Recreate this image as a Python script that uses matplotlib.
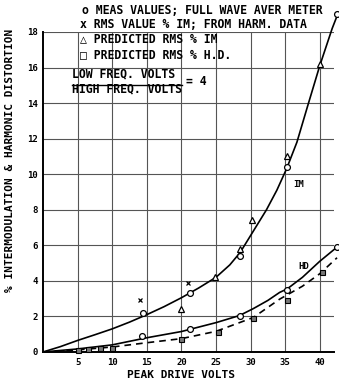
import matplotlib
matplotlib.use("Agg")
import matplotlib.pyplot as plt
from matplotlib.lines import Line2D

# IM curve (solid) and points
im_curve_x = [0, 2.5, 5, 7.5, 10, 12.5, 15, 17.5, 20, 22.5, 25, 27, 28.5,
              30.4, 32.3, 33.8, 35.2, 36.7, 38.3, 40, 41.8, 42.5]
im_curve_y = [0, 0.3, 0.65, 0.97, 1.3, 1.68, 2.1, 2.55, 3.05, 3.6, 4.2, 4.9,
              5.6, 6.8, 8.0, 9.1, 10.3, 11.8, 13.9, 16.1, 18.2, 18.9]
im_meas_x = [14.5, 21.2, 28.5, 35.2, 42.5]
im_meas_y = [2.2, 3.3, 5.4, 10.4, 19.0]
im_pred_x = [20, 24.9, 28.4, 30.2, 35.2, 40]
im_pred_y = [2.4, 4.2, 5.8, 7.4, 11.0, 16.2]
im_harm_x = [14, 21]
im_harm_y = [2.9, 3.9]

# HD curves and points
hd_curve_x = [0, 5, 10, 15, 20, 25, 28.4, 30.4, 32.5, 34.2, 35.3, 37.5, 40, 42.5]
hd_curve_y = [0, 0.17, 0.4, 0.8, 1.15, 1.65, 2.05, 2.44, 2.9, 3.35, 3.55, 4.2,
              5.1, 5.9]
hd_meas_x = [14.3, 21.2, 28.4, 35.3, 42.5]
hd_meas_y = [0.9, 1.3, 2.0, 3.5, 5.9]
hd_pred_curve_x = [0, 5, 10, 15, 20, 25, 30.4, 34.2, 37.5, 40, 42.5]
hd_pred_curve_y = [0, 0.12, 0.28, 0.52, 0.75, 1.16, 1.94, 2.97, 3.7, 4.4, 5.3]
hd_pred_x = [5, 6.5, 8.2, 10, 20, 25.3, 30.4, 35.2, 40.3]
hd_pred_y = [0.1, 0.15, 0.2, 0.25, 0.75, 1.15, 1.9, 2.9, 4.5]

xticks = [5, 10, 15, 20, 25, 30, 35, 40]
yticks = [0, 2, 4, 6, 8, 10, 12, 14, 16, 18]

font = dict(family="DejaVu Sans Mono", weight="bold")

fig = plt.figure(figsize=(3.39, 3.83), dpi=100)
ax = fig.add_axes([0.127, 0.081, 0.857, 0.8355])
ax.set_xlim(0, 42)
ax.set_ylim(0, 18)

gc = "#555555"
for x in xticks:
    ax.axvline(x, color=gc, lw=0.8, zorder=1)
for y in yticks[1:]:
    ax.axhline(y, color=gc, lw=0.8, zorder=1)

for s in ["top", "right"]:
    ax.spines[s].set_visible(False)
ax.spines["left"].set_linewidth(1.4)
ax.spines["bottom"].set_linewidth(1.4)

ax.plot(im_curve_x, im_curve_y, color="k", lw=1.2, clip_on=False, zorder=3)
ax.plot(hd_curve_x, hd_curve_y, color="k", lw=1.2, clip_on=False, zorder=3)
ax.plot(hd_pred_curve_x, hd_pred_curve_y, color="k", lw=1.2, ls=(0, (4, 3)),
        clip_on=False, zorder=3)

ax.plot(im_meas_x, im_meas_y, "o", mfc="white", mec="k", ms=4.2, mew=0.9,
        clip_on=False, zorder=4)
ax.plot(hd_meas_x, hd_meas_y, "o", mfc="white", mec="k", ms=4.2, mew=0.9,
        clip_on=False, zorder=4)
ax.plot(im_pred_x, im_pred_y, "^", mfc="white", mec="k", ms=4.2, mew=0.9,
        clip_on=False, zorder=4)
ax.plot(hd_pred_x, hd_pred_y, "s", mfc="#777777", mec="k", ms=3.6, mew=0.8,
        clip_on=False, zorder=4)
ax.plot(im_harm_x, im_harm_y, "x", color="k", ms=2.5, mew=0.9, zorder=4)

ax.set_xticks(xticks)
ax.set_yticks(yticks)
ax.set_xticklabels([str(v) for v in xticks], fontsize=6.5, **font)
ax.set_yticklabels([str(v) for v in yticks], fontsize=6.5, **font)
ax.tick_params(length=0, pad=4)

ax.text(36.2, 9.4, "IM", fontsize=6.5, ha="left", va="center", **font)
ax.text(36.9, 4.8, "HD", fontsize=6.5, ha="left", va="center", **font)

legend_lines = ["o MEAS VALUES; FULL WAVE AVER METER",
                "x RMS VALUE % IM; FROM HARM. DATA",
                "\u25b3 PREDICTED RMS % IM",
                "\u25a1 PREDICTED RMS % H.D."]
legend_y = [19.02, 18.22, 17.42, 16.5]
legend_x = [5.6, 5.3, 5.3, 5.3]
for t, x, y in zip(legend_lines, legend_x, legend_y):
    ax.text(x, y, t, fontsize=8.3, ha="left", va="baseline", clip_on=False,
            **font)

ax.text(4.2, 15.42, "LOW FREQ. VOLTS", fontsize=8.3, ha="left", va="baseline", **font)
ax.text(4.2, 14.62, "HIGH FREQ. VOLTS", fontsize=8.3, ha="left", va="baseline", **font)
ax.text(20.7, 15.02, "= 4", fontsize=8.3, ha="left", va="baseline", **font)
fig.add_artist(Line2D([72 / 339, 182 / 339], [1 - 85 / 383, 1 - 85 / 383],
                      color="k", lw=1.0))

fig.text(10 / 339, 1 - 160 / 383, "% INTERMODULATION & HARMONIC DISTORTION",
         rotation=90, fontsize=8, ha="center", va="center", **font)
fig.text(181 / 339, 1 - 375 / 383, "PEAK DRIVE VOLTS", fontsize=8,
         ha="center", va="center", **font)

fig.savefig("out.png", dpi=100)
